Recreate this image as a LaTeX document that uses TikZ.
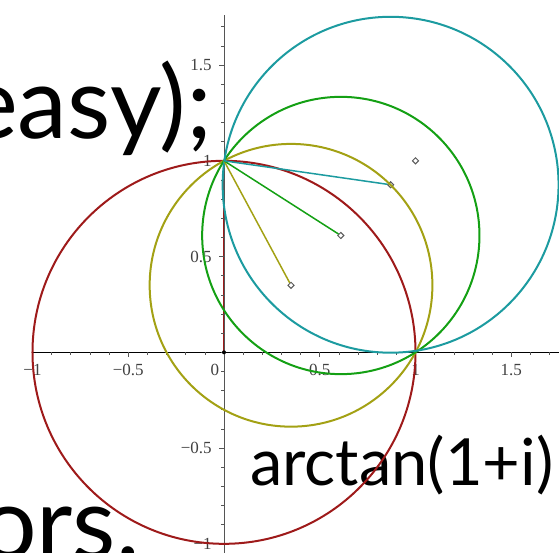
\documentclass[tikz,border=0pt]{standalone}
\usepackage{fontspec}
\setmainfont{Liberation Serif}
\newfontfamily\slidefont{Lato}
\usetikzlibrary{shapes.geometric}
\definecolor{rim}{HTML}{9E1A1A}
\definecolor{mustard}{HTML}{A3A114}
\definecolor{leaf}{HTML}{14A014}
\definecolor{sea}{HTML}{1C9BA0}
\definecolor{axisgray}{HTML}{555555}
\tikzset{orbit/.style={line width=2pt},
  spoke/.style={line width=1.5pt},
  ctr/.style={diamond,draw=black!65,fill=white,inner sep=0pt,minimum size=6.5pt,line width=1pt},
  ticklab/.style={font=\fontsize{17}{17}\selectfont,text=black!75,inner sep=0pt},
  slidebig/.style={font=\slidefont\fontsize{100}{100}\selectfont,inner sep=0pt},
  slidemid/.style={font=\slidefont\fontsize{65}{65}\selectfont,inner sep=0pt}}

\begin{document}
\begin{tikzpicture}[x=191.5pt,y=191.5pt]
  \useasboundingbox (-1.1697,-1.0428) rectangle (1.7493,1.8397);
  % slide text behind the plot
  \node[slidebig,anchor=base east] (easy) at (-0.06,1.114) {easy);};
  \node[slidebig,anchor=base east] (ors) at (-0.439,-1.078) {ors.};
  \node[slidemid,anchor=base west] (arctan) at (0.136,-0.694) {arctan(1+i)};
  % centres
  \coordinate (top) at (0,1);
  \coordinate (org) at (0,0);
  \draw[spoke,rim] (top) -- (org);
  % axes and ticks
  \draw[axisgray,line width=0.9pt] (0,-1.05) -- (0,1.76);
  \draw[black,line width=0.9pt] (-1.0,0) -- (1.75,0);
  \foreach \t in {-10,...,17} {
    \draw[axisgray,line width=0.6pt] (\t/10,0) -- ++(0,-3pt);
    \draw[axisgray,line width=0.6pt] (0,\t/10) -- ++(-3pt,0);
  }
  \foreach \t in {-1,-0.5,0.5,1,1.5} {
    \draw[axisgray,line width=0.6pt] (\t,0) -- ++(0,-5pt);
    \draw[axisgray,line width=0.6pt] (0,\t) -- ++(-5pt,0);
  }
  \foreach \v/\s [count=\i] in {-1/−1,-0.5/−0.5,0.5/0.5,1/1,1.5/1.5} {
    \node[ticklab,anchor=north] (xl\i) at (\v,-0.06) {\s};
    \node[ticklab,anchor=east] (yl\i) at (-0.063,\v) {\s};
  }
  \node[ticklab,anchor=north] (xl0) at (-0.047,-0.06) {0};
  \node[fill=black,circle,inner sep=0pt,minimum size=4pt] (odot) at (org) {};
  \node[ctr] (cA) at (0.35,0.35) {};
  \node[ctr] (cB) at (0.61,0.61) {};
  \node[ctr] (cC) at (0.87,0.875) {};
  \node[ctr] (cE) at (1,1) {};
  % circles through i and 1
  \draw[orbit,rim] (odot.center) circle [radius=1];
  \draw[orbit,mustard] (cA.center) circle [radius=0.7382];
  \draw[orbit,leaf] (cB.center) circle [radius=0.7240];
  \draw[orbit,sea] (cC.center) circle [radius=0.8770];
  % radii
  \draw[spoke,mustard] (top) -- (cA);
  \draw[spoke,leaf] (top) -- (cB);
  \draw[spoke,sea] (top) -- (cC);
\end{tikzpicture}
\end{document}
